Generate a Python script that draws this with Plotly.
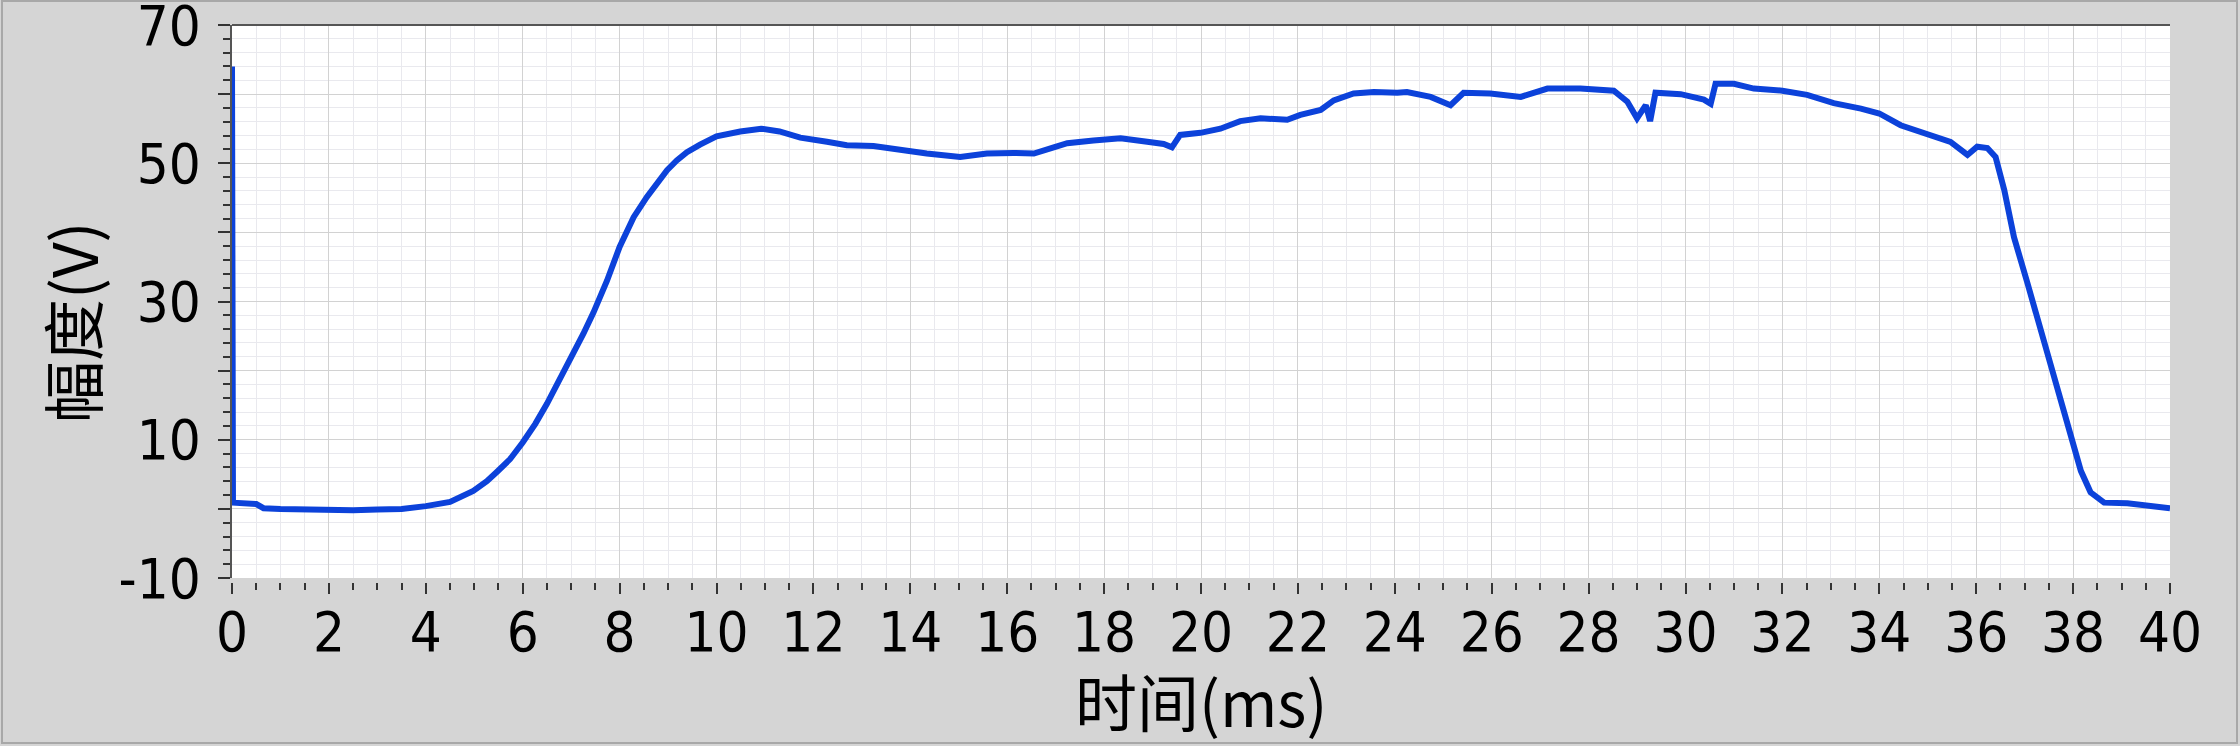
import plotly.graph_objects as go

# time (ms)
time_ms = [0, 0.02, 0.5, 0.65, 1.0, 1.5, 2.0, 2.5, 3.0, 3.5, 4.0, 4.5, 4.98, 5.26, 5.46, 5.74,
           6.0, 6.26, 6.5, 6.74, 6.98, 7.25, 7.46, 7.74, 8.0, 8.29, 8.56, 8.77, 8.98, 9.18,
           9.39, 9.66, 10.0, 10.49, 10.92, 11.3, 11.73,
           12.28, 12.69, 13.24, 13.79, 14.34, 15.03, 15.58, 16.13, 16.55, 16.96, 17.24, 17.78,
           18.34, 18.89, 19.23, 19.4, 19.57, 19.99, 20.4, 20.81, 21.23, 21.78, 22.05, 22.47,
           22.74, 23.15, 23.57, 24.05, 24.25, 24.74, 25.15, 25.42, 25.97, 26.6, 27.15, 27.83,
           28.52, 28.8, 29.0, 29.18, 29.27, 29.38, 29.9, 30.38, 30.52, 30.62, 31.0, 31.41, 32.0,
           32.51, 33.06, 33.62, 34.0, 34.44, 34.99, 35.47, 35.82, 36.02, 36.23, 36.4, 36.58,
           36.78, 37.06, 37.33, 37.61, 37.88, 38.16, 38.36, 38.64, 39.12, 39.67, 40.0]
# amplitude (V)
amplitude_v = [64, 0.9, 0.7, 0.1, 0.0, -0.1, -0.1, -0.2, -0.1, 0.0, 0.4, 1.0, 2.6, 4.0, 5.3, 7.2,
               9.6, 12.3, 15.2, 18.3, 21.4, 25.3, 28.4, 33.0, 37.9, 42.2, 45.1, 47.0, 49.0, 50.4,
               51.6, 52.7, 53.9, 54.6, 55.0, 54.6, 53.7,
               53.1, 52.6, 52.5, 51.9, 51.4, 50.9, 51.4, 51.5, 51.4, 52.3, 52.9, 53.3,
               53.6, 53.1, 52.8, 52.3, 54.1, 54.4, 55.0, 56.1, 56.5, 56.3, 57.0, 57.7,
               59.1, 60.1, 60.3, 60.2, 60.3, 59.6, 58.4, 60.2, 60.1, 59.6, 60.8, 60.8,
               60.5, 58.9, 56.5, 58.4, 56.1, 60.2, 60.0, 59.2, 58.6, 61.5, 61.5, 60.8, 60.5,
               59.9, 58.7, 57.9, 57.2, 55.5, 54.3, 53.1, 51.2, 52.4, 52.2, 50.9, 46.1,
               39.3, 32.6, 25.8, 19.0, 12.3, 5.5, 2.4, 0.9, 0.8, 0.4, 0.1]

x_tickvals = list(range(0, 41, 2))
x_ticktext = [str(v) for v in x_tickvals]
y_tickvals = list(range(-10, 71, 10))
y_ticktext = ['-10', '', '10', '', '30', '', '50', '', '70']

x_title = '时间(ms)'
y_title = '幅度(V)'

W, H = 2240, 746
L, R, T = 232, 70, 25
plot_bottom = 578
axis_bottom = 582
B = H - axis_bottom
paper_h = axis_bottom - T
paper_w = W - L - R
ydom0 = (axis_bottom - plot_bottom) / paper_h

tick_font = dict(family='Liberation Sans Narrow, DejaVu Sans Condensed, sans-serif', size=56, color='black')
cjk_font = dict(family='Noto Sans CJK SC, sans-serif', size=62, color='black')

fig = go.Figure()
fig.add_trace(go.Scatter(x=time_ms, y=amplitude_v, mode='lines',
                         line=dict(color='#0c42da', width=6), showlegend=False))

fig.update_layout(
    width=W, height=H,
    margin=dict(l=L, r=R, t=T, b=B, pad=0, autoexpand=False),
    paper_bgcolor='#d5d5d5',
    plot_bgcolor='white',
    xaxis=dict(range=[0, 40], anchor='free', position=0, automargin=False,
               tickmode='array', tickvals=x_tickvals, ticktext=x_ticktext,
               ticks='outside', ticklen=11, tickwidth=2, tickcolor='#333',
               tickfont=tick_font, showline=False, zeroline=False,
               ticklabelstandoff=-10, ticklabeloverflow='allow',
               showgrid=True, gridcolor='#d2d2d2', gridwidth=1,
               minor=dict(dtick=0.5, ticks='outside', ticklen=7, tickwidth=2, tickcolor='#333',
                          showgrid=True, gridcolor='#e9e9ee', gridwidth=1)),
    yaxis=dict(range=[-10, 70], domain=[ydom0, 1], automargin=False,
               tickmode='array', tickvals=y_tickvals, ticktext=y_ticktext,
               ticks='outside', ticklen=12, tickwidth=2, tickcolor='#333',
               tickfont=tick_font, showline=True, linecolor='#555', linewidth=2,
               zeroline=False, showgrid=True, gridcolor='#d2d2d2', gridwidth=1,
               ticklabelstandoff=6, ticklabeloverflow='allow',
               minor=dict(dtick=2, ticks='outside', ticklen=7, tickwidth=2, tickcolor='#333',
                          showgrid=True, gridcolor='#e9e9ee', gridwidth=1)),
    shapes=[dict(type='line', xref='paper', yref='paper', x0=0, x1=1, y0=1, y1=1,
                 line=dict(color='#555', width=2)),
            dict(type='rect', xref='paper', yref='paper',
                 x0=(2 - L) / paper_w, x1=(W - 3 - L) / paper_w,
                 y0=(axis_bottom - (H - 3)) / paper_h, y1=(axis_bottom - 1) / paper_h,
                 line=dict(color='#a8a8a8', width=2), layer='below')],
    annotations=[
        dict(text=x_title, xref='paper', yref='paper', x=0.5,
             y=(axis_bottom - 700) / paper_h, xanchor='center', yanchor='middle',
             showarrow=False, font=cjk_font),
        dict(text=y_title, xref='paper', yref='paper', x=(71 - L) / paper_w,
             y=(axis_bottom - 322) / paper_h, xanchor='center', yanchor='middle',
             textangle=-90, showarrow=False, font=cjk_font),
    ],
)

fig.write_html('out.html', config={'displayModeBar': False},
               post_script="document.body.style.margin='0';document.body.style.overflow='hidden';")
